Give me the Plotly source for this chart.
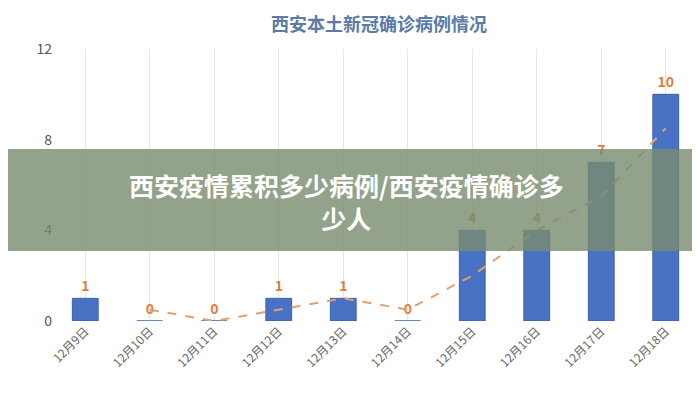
import plotly.graph_objects as go

dates = ["12月9日", "12月10日", "12月11日", "12月12日", "12月13日",
         "12月14日", "12月15日", "12月16日", "12月17日", "12月18日"]
cases = [1, 0, 0, 1, 1, 0, 4, 4, 7, 10]
trend_dates = dates[1:]
trend = [0.5, 0, 0.5, 1, 0.5, 2, 4, 5.5, 8.5]

fig = go.Figure()
fig.add_trace(go.Bar(x=dates, y=cases, width=0.4,
                     marker=dict(color="#4a72c4", line=dict(color="#3a5fae", width=1)),
                     text=["<b>%d</b>" % v for v in cases], textposition="outside",
                     textfont=dict(color="#d9823b", size=14, family="Noto Sans CJK SC"),
                     cliponaxis=False))
fig.add_trace(go.Scatter(x=trend_dates, y=trend, mode="lines",
                         line=dict(color="#e0a070", width=2, dash="dash")))

fig.update_layout(
    width=700, height=400, showlegend=False,
    margin=dict(l=45, r=10, t=41, b=87),
    plot_bgcolor="white", paper_bgcolor="white",
    font=dict(family="Noto Sans CJK SC", color="#555"),
    title=dict(text="<b>西安本土新冠确诊病例情况</b>", x=0.53, y=0.975,
               yanchor="top", font=dict(size=18, color="#5a7aa8")),
    xaxis=dict(tickangle=-45, showgrid=True, gridcolor="#e6e6e6",
               ticks="", tickfont=dict(size=12, color="#666"), showline=False),
    yaxis=dict(range=[0, 12], tickvals=[0, 4, 8, 12], showgrid=False,
               zeroline=False, tickfont=dict(size=14, color="#555")),
)
fig.add_shape(type="rect", xref="paper", yref="paper",
              x0=-0.08, x1=1.02, y0=0.257, y1=0.632,
              fillcolor="rgba(120,140,110,0.8)", line=dict(width=0), layer="above")
fig.add_annotation(xref="paper", yref="paper", x=0.455, y=0.44, showarrow=False,
                   text="<b>西安疫情累积多少病例/西安疫情确诊多<br>少人</b>",
                   font=dict(size=25, color="white", family="Noto Sans CJK SC"))

fig.write_html("out.html")
